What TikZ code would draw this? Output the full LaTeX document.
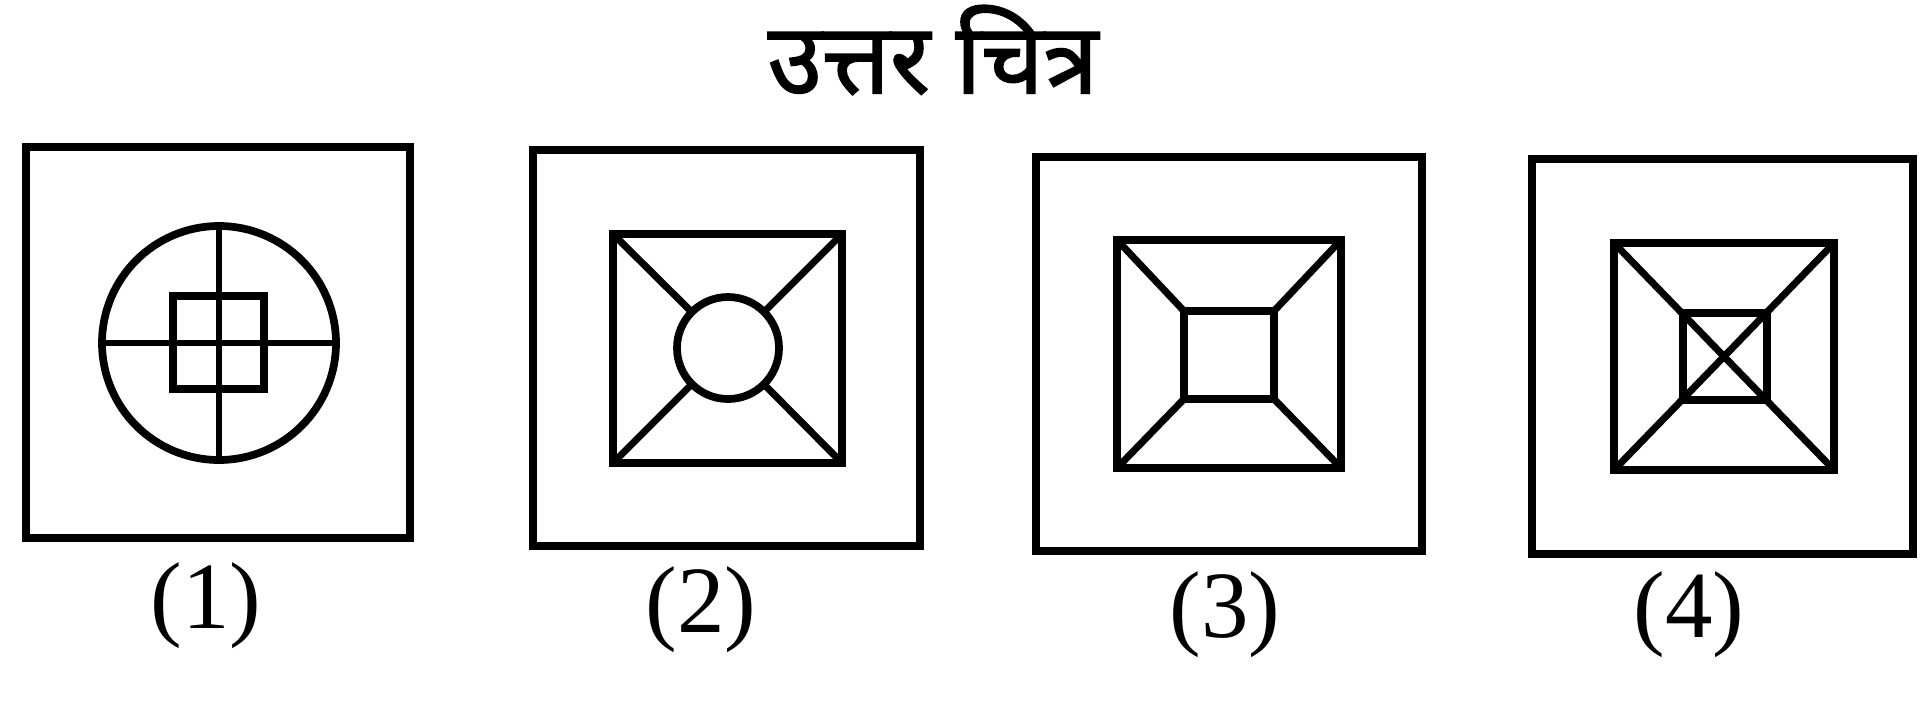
\documentclass[tikz,border=0pt]{standalone}
\usepackage{fontspec}
\setmainfont{Liberation Serif}
\newfontfamily\devfont[Script=Devanagari,FakeBold=1.6]{Noto Sans}
\usetikzlibrary{positioning,calc}

\begin{document}
\begin{tikzpicture}[x=0.01cm,y=-0.01cm,
  frame/.style={line width=2.4pt},
  inner/.style={line width=2.2pt},
  spoke/.style={line width=2pt},
  cross/.style={line width=1.6pt},
  lbl/.style={font=\fontsize{27}{30}\selectfont,inner sep=0pt},
  ttl/.style={font=\devfont\fontsize{28}{32}\selectfont,inner sep=0pt}]
  \useasboundingbox (0,0) rectangle (1922,709);
  \node[ttl] (title) at (933,50) {उत्तर चित्र};
  % figure 1
  \draw[frame] (26,147) rectangle (410,538);
  \coordinate (c1) at (219,343);
  \draw[inner] (c1) circle (117);
  \draw[cross] ([yshift=-1.17cm]c1) -- ([yshift=1.17cm]c1);
  \draw[cross] ([xshift=-1.17cm]c1) -- ([xshift=1.17cm]c1);
  \draw[inner] (173,296) rectangle (264,389);
  \node[lbl] (l1) at (206,606) {(1)};
  % figure 2
  \draw[frame] (533,150) rectangle (920,546);
  \draw[inner] (613,234) coordinate (b2nw) rectangle (842,463) coordinate (b2se);
  \coordinate (b2ne) at (842,234);
  \coordinate (b2sw) at (613,463);
  \coordinate (c2) at (728,348);
  \draw[inner] (c2) circle (51);
  \foreach \k in {nw,ne,sw,se}
    \draw[spoke] (b2\k) -- ($(c2)!0.51cm!(b2\k)$);
  \node[lbl] (l2) at (701,610) {(2)};
  % figure 3
  \draw[frame] (1036,157) rectangle (1422,551);
  \draw[inner] (1117,240) rectangle (1341,468);
  \draw[inner] (1184,311) rectangle (1274,399);
  \draw[spoke] (1117,240) -- (1184,311);
  \draw[spoke] (1341,240) -- (1274,311);
  \draw[spoke] (1117,468) -- (1184,399);
  \draw[spoke] (1341,468) -- (1274,399);
  \node[lbl] (l3) at (1225,615) {(3)};
  % figure 4
  \draw[frame] (1532,159) rectangle (1913,554);
  \draw[inner] (1614,243) rectangle (1834,470);
  \draw[inner] (1683,313) rectangle (1767,400);
  \draw[spoke] (1614,243) -- (1834,470);
  \draw[spoke] (1834,243) -- (1614,470);
  \node[lbl] (l4) at (1689,615) {(4)};
\end{tikzpicture}
\end{document}
